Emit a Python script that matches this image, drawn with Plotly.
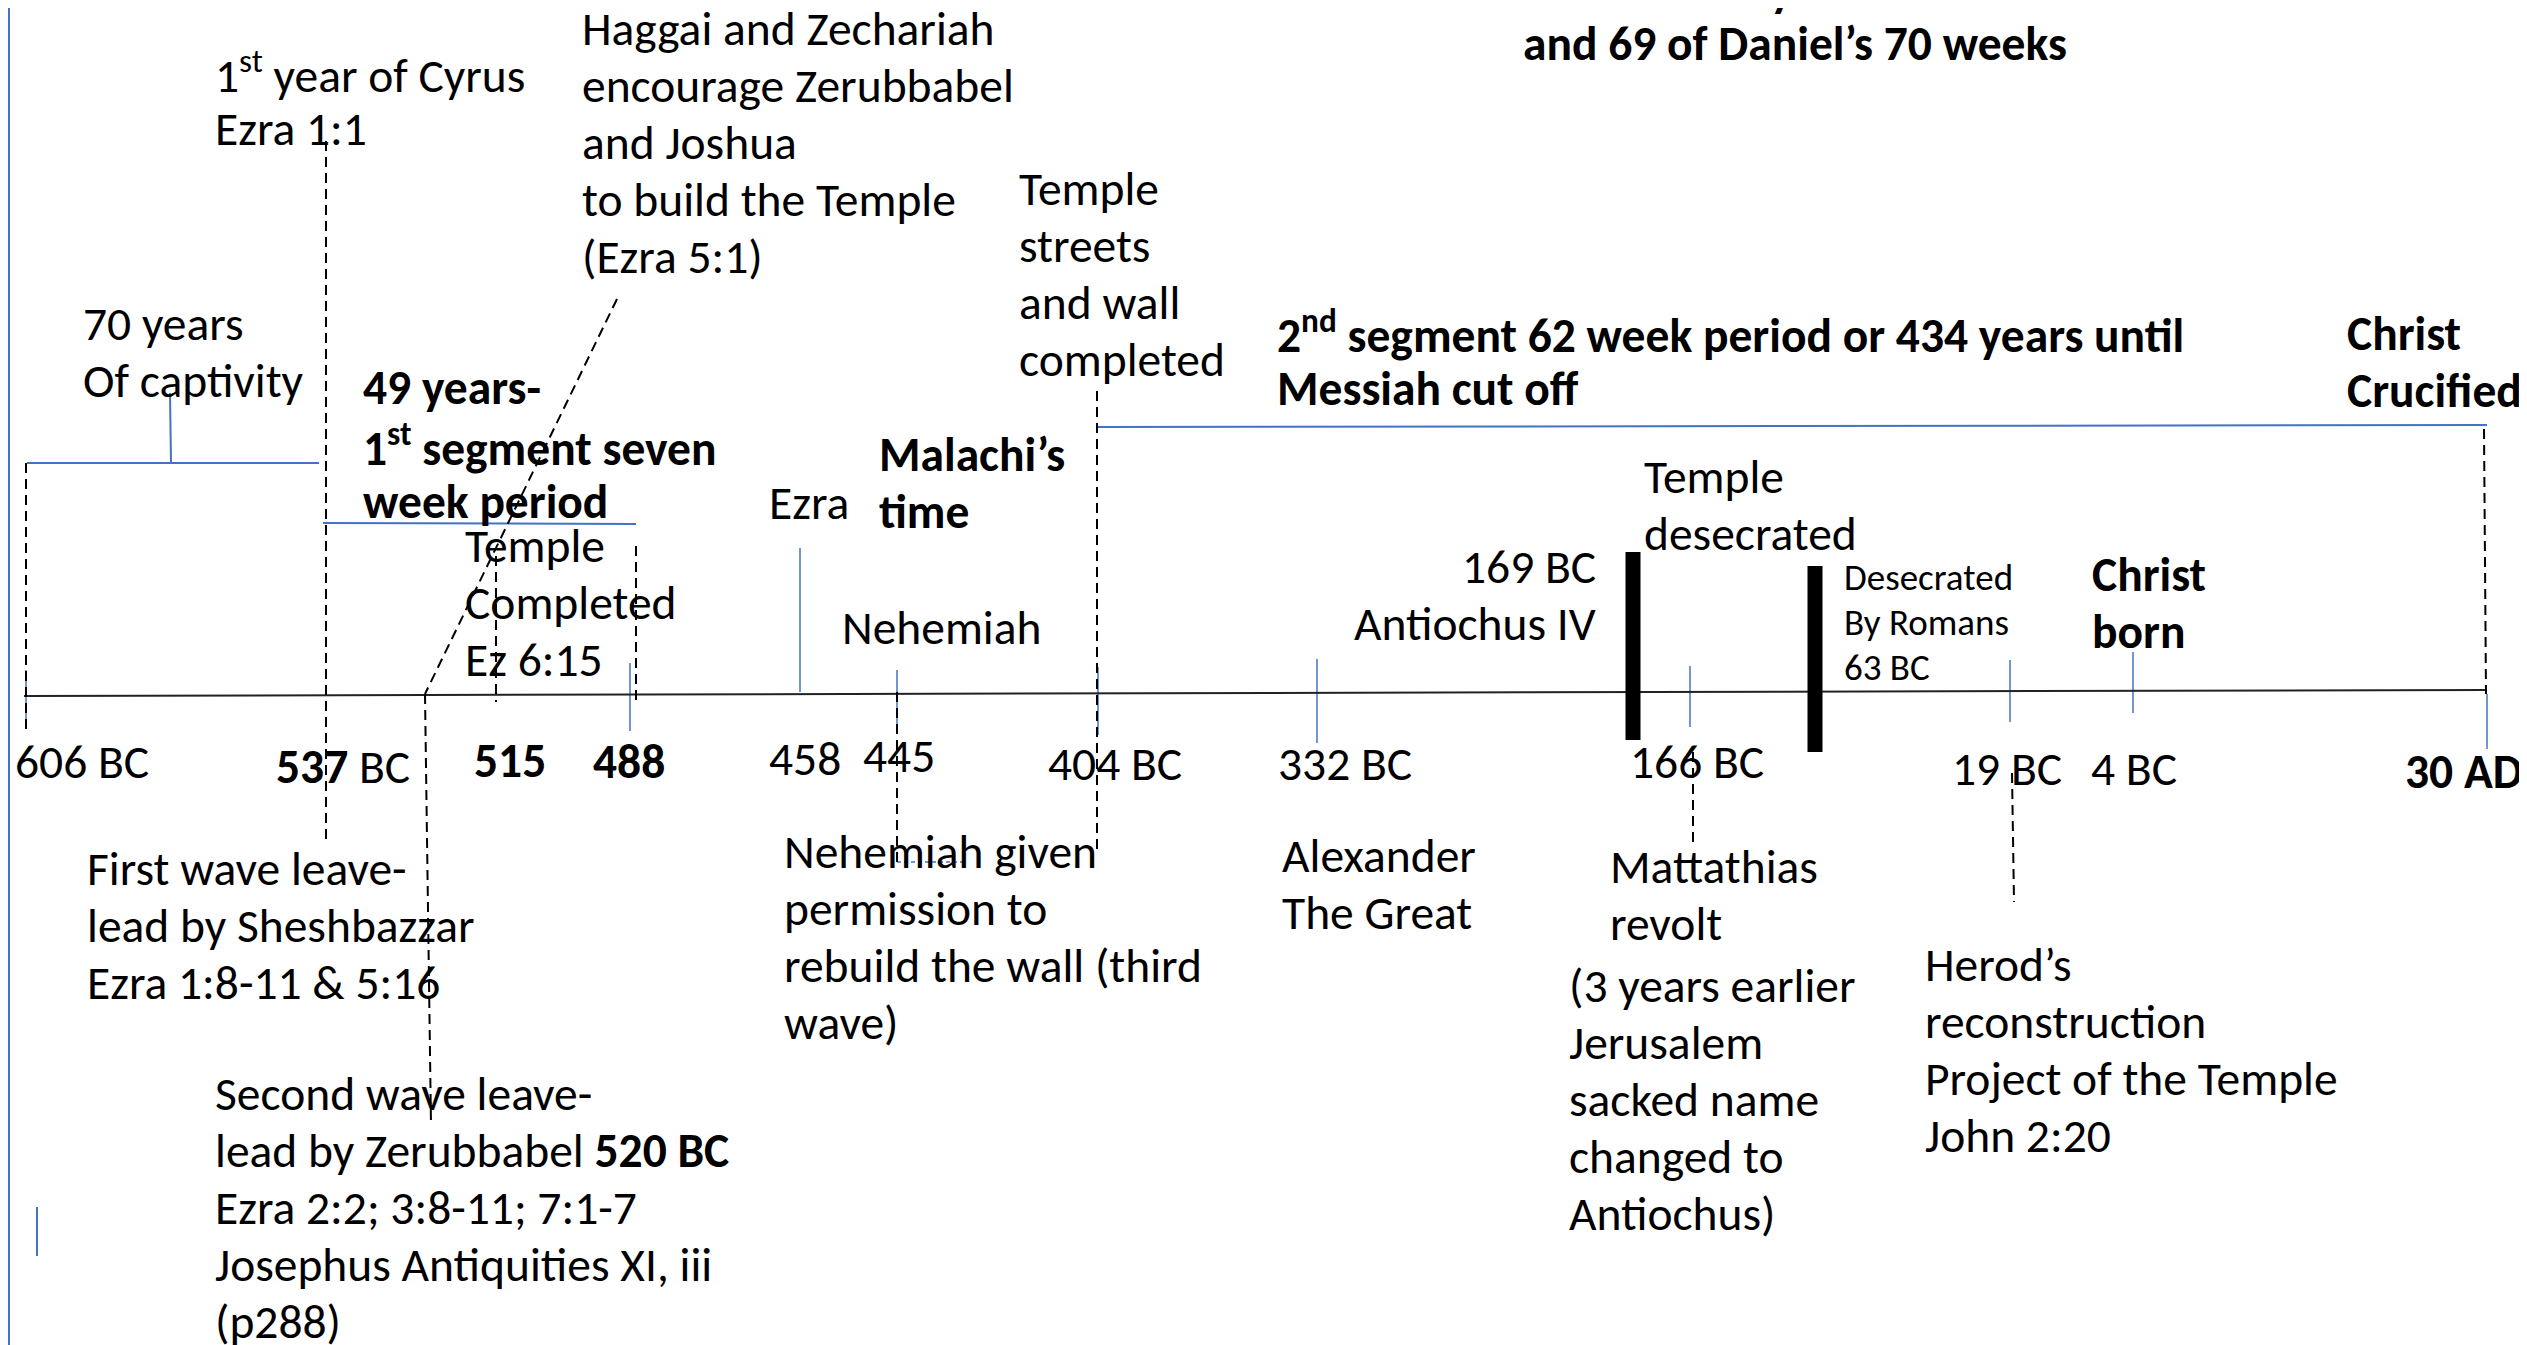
import plotly.graph_objects as go

W, H = 2527, 1345
OFF = 8          # the page body has an 8px margin; shift the drawing so it lands on the slide pixels
FONT = "Carlito, Lato, 'Liberation Sans', sans-serif"
BLUE = "#4472C4"
BLACK = "#000000"
FS = 47.5        # normal text size
FS_SMALL = 37    # small text size
LS = 57          # line spacing normal
LS_SMALL = 45    # line spacing small

# ---------------- data ----------------
title_lines = ["The last 636 years of Israel as a nation", "and 69 of Daniel’s 70 weeks"]

tick_labels = ["606 BC", "<b>537</b> BC", "<b>515</b>", "<b>488</b>", "458", "445",
               "404 BC", "332 BC", "166 BC", "19 BC", "4 BC", "<b>30 AD</b>"]
tick_x = [13, 274, 472, 591, 767, 861, 1046, 1276, 1628, 1950, 2089, 2403]
tick_y = [762, 767, 761, 762, 759, 756, 764, 764, 762, 769, 769, 772]

# event marker positions on the timeline (blue ticks)
marker_x = [26, 630, 800, 897, 1098, 1317, 1690, 2010, 2133, 2487]
marker_top = [670, 663, 548, 670, 667, 659, 666, 660, 652, 694]
marker_bot = [722, 731, 692, 733, 735, 743, 727, 722, 713, 749]

# text blocks: (x, y of first line, lines, bold, small, anchor)
text_blocks = [
    (213, 72, ["1<sup>st</sup> year of Cyrus", "Ezra 1:1"], False, False, "left"),
    (580, 29, ["Haggai and Zechariah", "encourage Zerubbabel", "and Joshua",
               "to build the Temple", "(Ezra 5:1)"], False, False, "left"),
    (1017, 189, ["Temple", "streets", "and wall", "completed"], False, False, "left"),
    (81, 324, ["70 years", "Of captivity"], False, False, "left"),
    (361, 388, ["49 years-", "1<sup>st</sup> segment seven", "week period"], True, False, "left"),
    (1275, 332, ["2<sup>nd</sup> segment 62 week period or 434 years until", "Messiah cut off"], True, False, "left"),
    (2345, 334, ["Christ", "Crucified"], True, False, "left"),
    (877, 455, ["Malachi’s", "time"], True, False, "left"),
    (767, 503, ["Ezra"], False, False, "left"),
    (463, 546, ["Temple", "Completed", "Ez 6:15"], False, False, "left"),
    (840, 628, ["Nehemiah"], False, False, "left"),
    (1642, 477, ["Temple", "desecrated"], False, False, "left"),
    (1598, 567, ["169 BC", "Antiochus IV"], False, False, "right"),
    (1842, 577, ["Desecrated", "By Romans", "63 BC"], False, True, "left"),
    (2090, 575, ["Christ", "born"], True, False, "left"),
    (85, 869, ["First wave leave-", "lead by Sheshbazzar", "Ezra 1:8-11 &amp; 5:16"], False, False, "left"),
    (213, 1094, ["Second wave leave-", "lead by Zerubbabel <b>520 BC</b>", "Ezra 2:2; 3:8-11; 7:1-7",
                 "Josephus Antiquities XI, iii", "(p288)"], False, False, "left"),
    (782, 852, ["Nehemiah given", "permission to", "rebuild the wall (third", "wave)"], False, False, "left"),
    (1280, 856, ["Alexander", "The Great"], False, False, "left"),
    (1608, 867, ["Mattathias", "revolt"], False, False, "left"),
    (1567, 986, ["(3 years earlier", "Jerusalem", "sacked name", "changed to", "Antiochus)"], False, False, "left"),
    (1923, 965, ["Herod’s", "reconstruction", "Project of the Temple", "John 2:20"], False, False, "left"),
]

# geometry of connector lines (x0, y0, x1, y1)
axis_line = [(24, 696, 2487, 690)]
dashed_lines = [
    (26, 463, 26, 729), (326, 141, 326, 840), (617, 299, 425, 694), (425, 694, 431, 1125),
    (496, 556, 496, 702), (636, 546, 636, 700), (1097, 391, 1097, 853), (897, 692, 897, 863),
    (1693, 752, 1693, 845), (2012, 773, 2014, 902), (2484, 429, 2486, 694),
]
blue_lines = [
    (27, 463, 319, 463), (170, 393, 171, 463), (323, 523, 636, 524), (1097, 427, 2487, 425),
    (9, 0, 9, 1345), (37, 1207, 37, 1256),
]
blue_dotted = [(897, 862, 967, 862)]
thick_bars = [(1633, 552, 1633, 740), (1815, 566, 1815, 752)]


def seg_xy(segs):
    xs, ys = [], []
    for x0, y0, x1, y1 in segs:
        xs += [x0, x1, None]
        ys += [y0, y1, None]
    return xs, ys


fig = go.Figure()


def add_lines(segs, color, width, dash="solid"):
    xs, ys = seg_xy(segs)
    fig.add_trace(go.Scatter(x=xs, y=ys, mode="lines", hoverinfo="skip",
                             line=dict(color=color, width=width, dash=dash), showlegend=False))


add_lines(blue_lines, BLUE, 2)
add_lines([(x, t, x, b) for x, t, b in zip(marker_x, marker_top, marker_bot)], BLUE, 1.5)
add_lines(blue_dotted, BLUE, 1.5, "4px,3px")
add_lines(axis_line, "#222222", 2)
add_lines(dashed_lines, BLACK, 2, "10px,6px")
add_lines(thick_bars, BLACK, 15)

annotations = []
PW, PH = W - OFF, H - OFF


def add_text(x, y, text, size, anchor="left", ref="data"):
    a = dict(x=x, y=y, text=text, showarrow=False, xanchor=anchor, yanchor="middle",
             font=dict(family=FONT, size=size, color="black"), align=anchor)
    if ref == "paper":
        a.update(xref="paper", yref="paper", x=(x - OFF) / PW, y=1 - (y - OFF) / PH)
    else:
        a.update(xref="x", yref="y")
    annotations.append(a)


for x, y0, lines, bold, small, anchor in text_blocks:
    size = FS_SMALL if small else FS
    ls = LS_SMALL if small else LS
    for i, ln in enumerate(lines):
        t = f"<b>{ln}</b>" if bold else ln
        add_text(x, y0 + i * ls, t, size, anchor)

for lab, x, y in zip(tick_labels, tick_x, tick_y):
    add_text(x, y, lab, FS)

# title (first line is partly cut off at the top of the slide)
add_text(1521, -10, f"<b>{title_lines[0]}</b>", FS, ref="paper")
add_text(1521, 44, f"<b>{title_lines[1]}</b>", FS, ref="paper")

fig.update_layout(
    width=PW, height=PH, margin=dict(l=0, r=0, t=0, b=0),
    paper_bgcolor="white", plot_bgcolor="white",
    xaxis=dict(range=[OFF, W], visible=False, fixedrange=True),
    yaxis=dict(range=[H, OFF], visible=False, fixedrange=True),
    annotations=annotations, showlegend=False,
)

fig.write_html("out.html")
